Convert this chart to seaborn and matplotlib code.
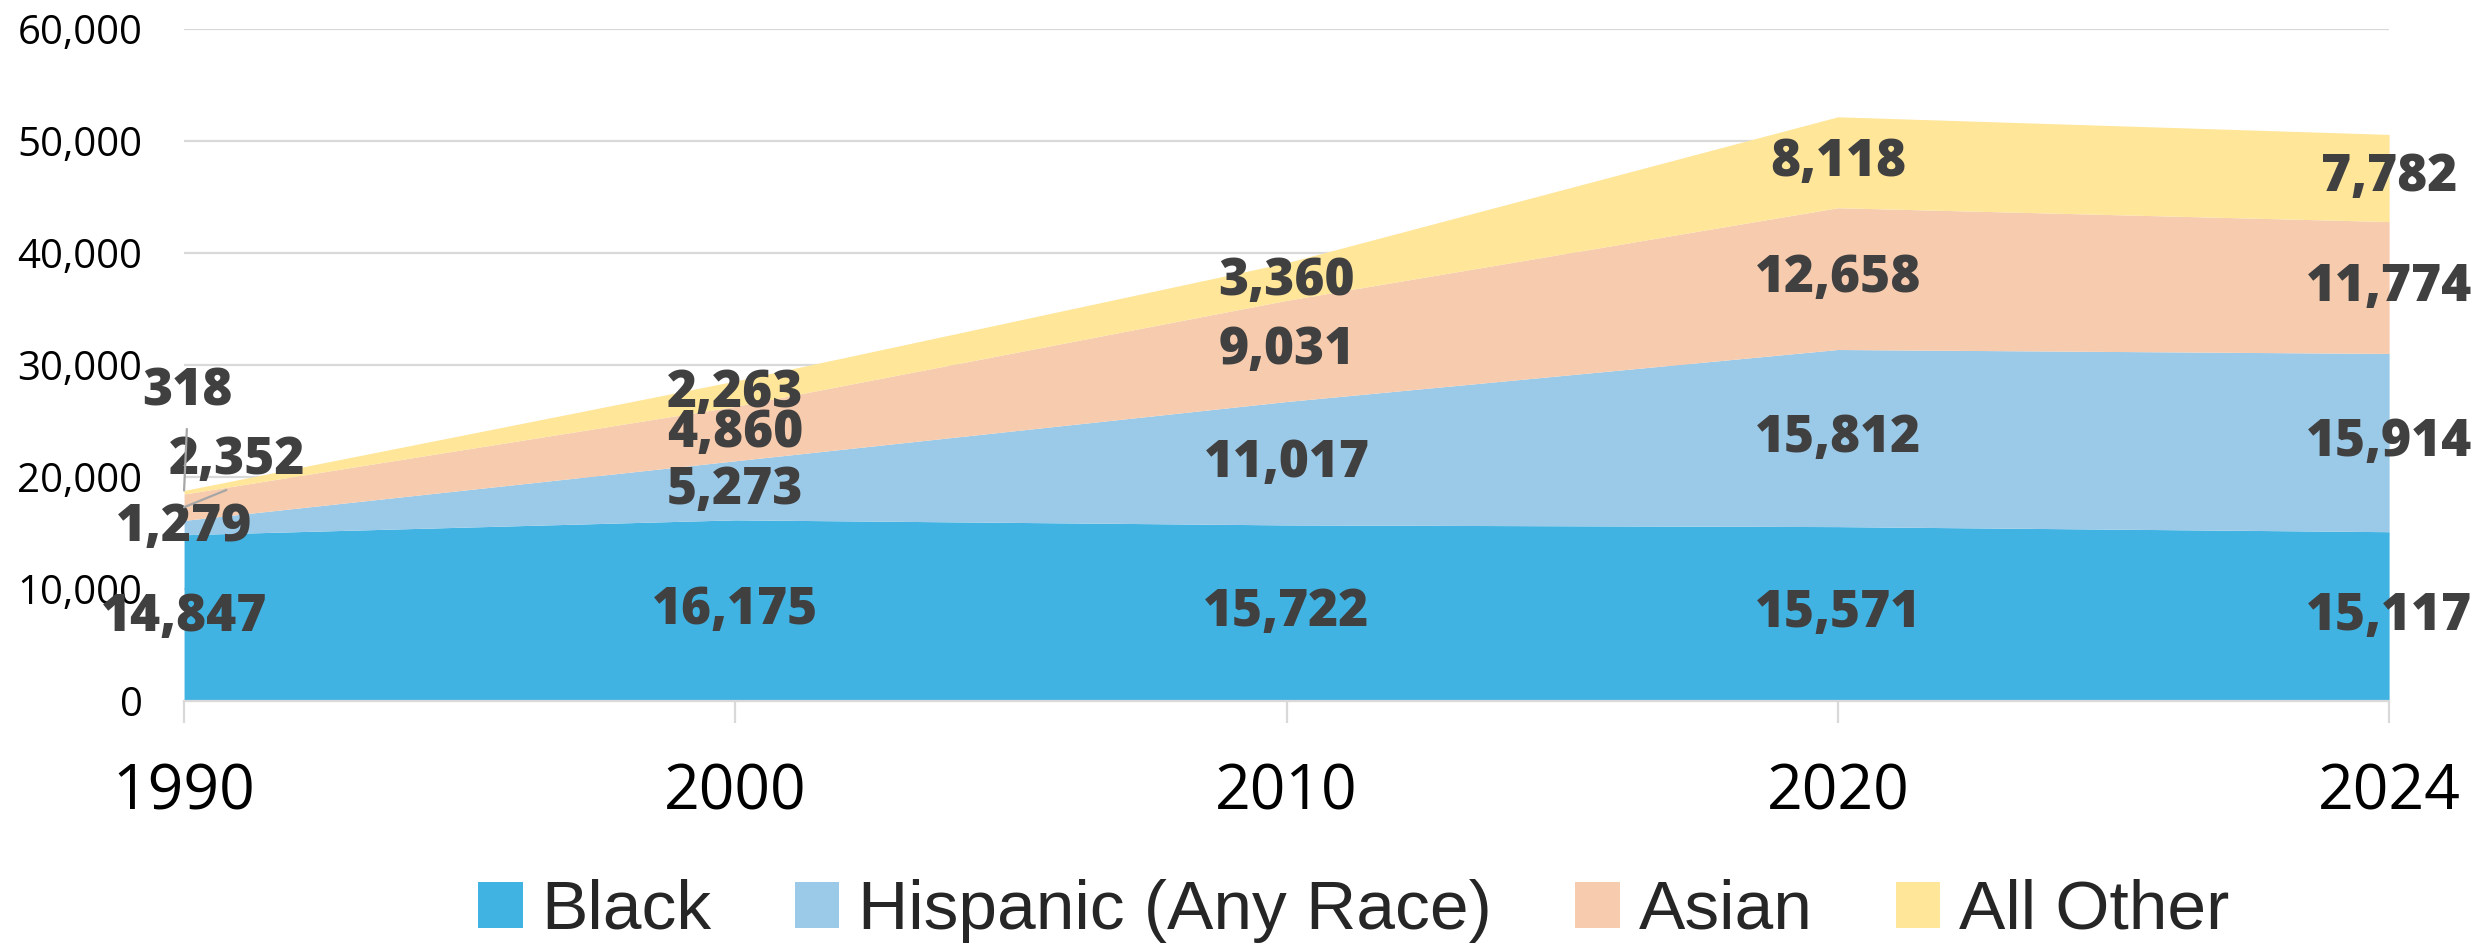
import matplotlib
matplotlib.use("Agg")
import matplotlib.pyplot as plt
from matplotlib.patches import Patch
import numpy as np
import pandas as pd
import seaborn as sns

# Population by race / ethnicity, census years plus 2024 estimate
years = ["1990", "2000", "2010", "2020", "2024"]
black = [14847, 16175, 15722, 15571, 15117]
hispanic = [1279, 5273, 11017, 15812, 15914]
asian = [2352, 4860, 9031, 12658, 11774]
all_other = [318, 2263, 3360, 8118, 7782]

series_names = ["Black", "Hispanic (Any Race)", "Asian", "All Other"]
series_colors = ["#41B3E3", "#9BC9E8", "#F7CBAD", "#FFE699"]
y_ticks = [0, 10000, 20000, 30000, 40000, 50000, 60000]

df = pd.DataFrame({
    "year": years,
    "Black": black,
    "Hispanic (Any Race)": hispanic,
    "Asian": asian,
    "All Other": all_other,
})

sns.set_theme(style="white")
plt.rcParams["font.family"] = ["Open Sans", "DejaVu Sans"]

fig = plt.figure(figsize=(24.84, 9.44), dpi=100)
ax = fig.add_axes([0.0741, 0.2574, 0.8877, 0.7119])

x = np.arange(len(years))
stack = np.vstack([df[name].values for name in series_names])
ax.stackplot(x, stack, colors=series_colors, linewidth=0, zorder=2)

ax.set_xlim(0, len(years) - 1)
ax.set_ylim(0, 60000)
ax.set_yticks(y_ticks)
ax.set_yticklabels([f"{v:,}" for v in y_ticks])
ax.set_xticks(x)
ax.set_xticklabels(years)
ax.set_axisbelow(True)
ax.grid(axis="y", color="#D9D9D9", linewidth=1.6)
ax.grid(axis="x", visible=False)

sns.despine(ax=ax, left=True, top=True, right=True, bottom=False)
ax.spines["bottom"].set_color("#D9D9D9")
ax.spines["bottom"].set_linewidth(1.6)

ax.tick_params(axis="y", length=0, pad=30, labelsize=29, labelcolor="#000000")
ax.tick_params(axis="x", length=16, width=1.6, color="#D9D9D9", pad=28,
               labelsize=45, labelcolor="#000000", direction="out", bottom=True)

label_kw = dict(fontsize=37, fontweight="heavy", color="#404040",
                ha="center", va="center", zorder=5,
                family=["Open Sans", "DejaVu Sans"])

# Value labels at the middle of each band
bottoms = np.zeros(len(years))
for si, name in enumerate(series_names):
    vals = df[name].values
    for i in range(len(years)):
        mid = bottoms[i] + vals[i] / 2
        if i == 0 and name in ("Asian", "All Other"):
            continue
        ax.text(i, mid, f"{vals[i]:,}", **label_kw)
    bottoms = bottoms + vals

# Thin bands at 1990 get labels lifted above with leader lines
asian_mid_1990 = black[0] + hispanic[0] + asian[0] / 2
other_top_1990 = black[0] + hispanic[0] + asian[0] + all_other[0]
leader = dict(arrowstyle="-", color="#A6A6A6", lw=1.6, shrinkA=2, shrinkB=0,
              relpos=(0.5, 0.0))
ax.annotate(f"{asian[0]:,}", xy=(0, asian_mid_1990), xytext=(0.096, 21500),
            arrowprops=leader, annotation_clip=False, **label_kw)
ax.annotate(f"{all_other[0]:,}", xy=(0, other_top_1990), xytext=(0.006, 27600),
            arrowprops=dict(leader, shrinkA=6), annotation_clip=False, **label_kw)

handles = [Patch(facecolor=c, edgecolor="none") for c in series_colors]
fig.legend(handles, series_names, loc="center", bbox_to_anchor=(0.545, 0.035),
           ncol=4, frameon=False, handlelength=0.64, handleheight=0.64,
           handletextpad=0.27, columnspacing=1.2,
           prop=dict(family=["Liberation Sans", "DejaVu Sans"], size=50))

fig.savefig("out.png", dpi=100, facecolor="white")
